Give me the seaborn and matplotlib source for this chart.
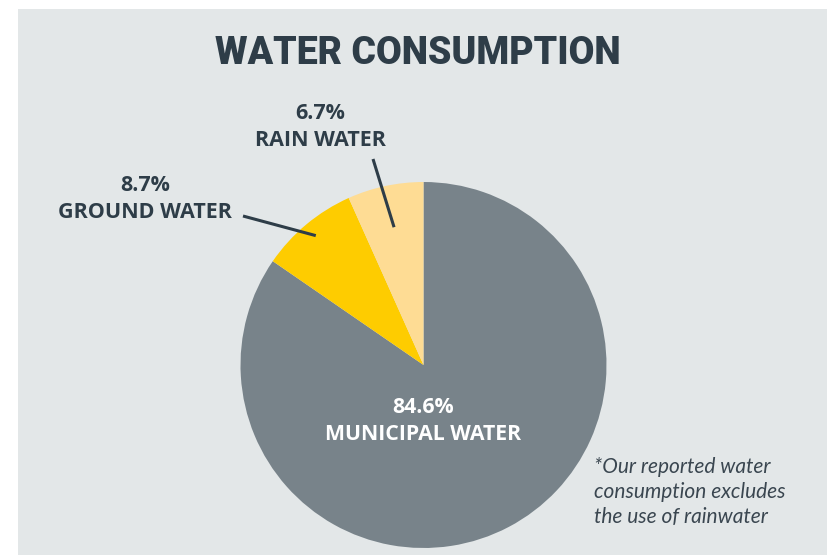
import numpy as np
import matplotlib
matplotlib.use("Agg")
import matplotlib.pyplot as plt
from matplotlib.patches import Rectangle
import seaborn as sns

# Water consumption shares (%)
categories = ["MUNICIPAL WATER", "GROUND WATER", "RAIN WATER"]
shares = [84.6, 8.7, 6.7]
colors = ["#78838a", "#fecc00", "#fedc94"]

title = "WATER CONSUMPTION"
footnote = "*Our reported water\nconsumption excludes\nthe use of rainwater"

sns.set_theme(style="white")
plt.rcParams["font.family"] = ["Lato", "DejaVu Sans"]

INK = "#2e3d48"
PANEL = "#e3e7e8"
LABEL_FONT = ["Open Sans", "DejaVu Sans"]

W, H = 827, 555
fig = plt.figure(figsize=(W / 100, H / 100), dpi=100)
fig.patch.set_facecolor("white")
ax = fig.add_axes([0, 0, 1, 1])
ax.set_facecolor("white")

# light panel behind the chart
ax.add_patch(Rectangle((18, 0), W - 18, H - 9, facecolor=PANEL,
                       edgecolor="none", zorder=0))

cx, cy, r = 423.5, 190.0, 183.0
wedges, _ = ax.pie(shares, colors=colors, startangle=90, counterclock=False,
                   center=(cx, cy), radius=r,
                   wedgeprops=dict(linewidth=0, zorder=2))
ax.set_xlim(0, W)
ax.set_ylim(0, H)
ax.set_aspect("equal")
ax.axis("off")

ax.text(418, H - 53, title, ha="center", va="center", color=INK,
        fontsize=27, fontweight="black", family=["Roboto", "DejaVu Sans"],
        fontstretch="condensed", zorder=3)

# centre label for the main wedge
ax.text(cx, H - 421, f"{shares[0]}%\n{categories[0]}", ha="center",
        va="center", color="white", fontsize=15.3, fontweight="bold",
        family=LABEL_FONT, linespacing=1.4, zorder=3)

# outside labels with leader lines to the wedge middles
label_pos = {1: (145, H - 199), 2: (320, H - 127)}
line_start = {1: (243, H - 216), 2: (373, H - 159)}
line_frac = {1: 0.92, 2: 0.77}
for i in (1, 2):
    w = wedges[i]
    mid = np.deg2rad((w.theta1 + w.theta2) / 2)
    ex = cx + line_frac[i] * r * np.cos(mid)
    ey = cy + line_frac[i] * r * np.sin(mid)
    sx, sy = line_start[i]
    ax.plot([sx, ex], [sy, ey], color=INK, lw=2.2, solid_capstyle="butt",
            zorder=4)
    tx, ty = label_pos[i]
    ax.text(tx, ty, f"{shares[i]}%\n{categories[i]}", ha="center",
            va="center", color=INK, fontsize=15.5, fontweight="bold",
            family=LABEL_FONT, linespacing=1.4, zorder=3)

ax.text(594, H - 492, footnote, ha="left", va="center", color="#3a4650",
        fontsize=15, style="italic", linespacing=1.3, zorder=3)

fig.savefig("out.png", dpi=100, facecolor=fig.get_facecolor())
